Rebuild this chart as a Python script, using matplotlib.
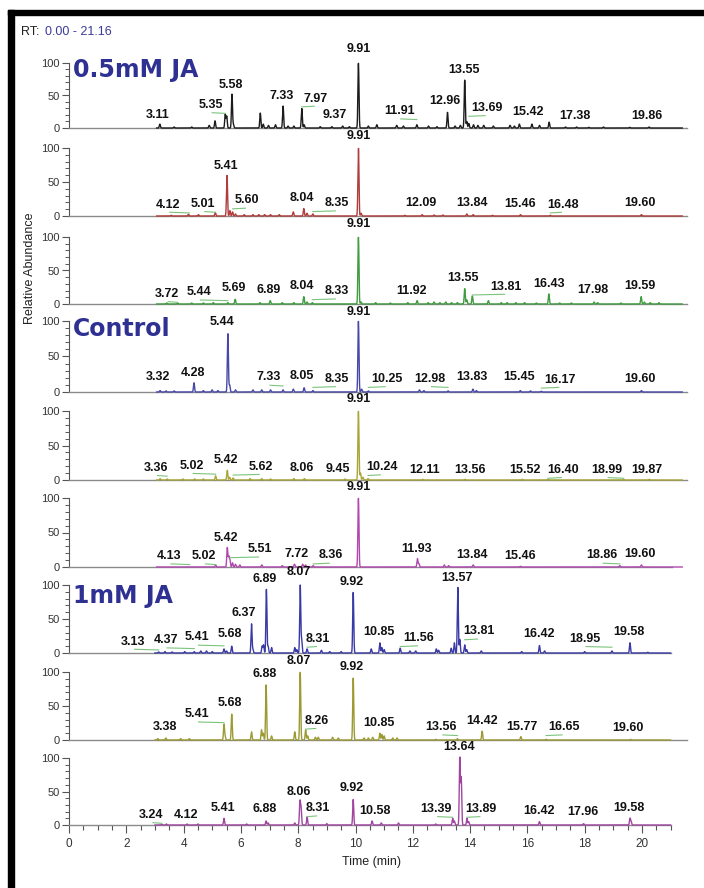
import numpy as np
import matplotlib
matplotlib.use("Agg")
import matplotlib.pyplot as plt
import matplotlib.patches as patches
from matplotlib.ticker import FixedLocator


# ---- data (retention time in min, relative abundance) ----

# 0.5mM JA, replicate 1
p1_rt = [3.11, 3.6, 4.2, 4.80, 5.00, 5.35, 5.40, 5.58, 5.63, 6.55, 6.65, 6.83, 7.07,
         7.33, 7.50, 7.70, 7.97, 8.05, 8.6, 9.0, 9.37, 9.6, 9.91, 10.25, 10.54, 11.22,
         11.45, 11.91, 12.31, 12.6, 12.96, 13.22, 13.40, 13.55, 13.62, 13.69, 13.85,
         14.0, 14.2, 14.53, 15.10, 15.25, 15.42, 15.85, 16.11, 16.44, 17.0, 17.38,
         17.8, 18.3, 19.2, 19.86]
p1_h = [6, 1.5, 1.5, 4, 11, 21, 18, 52, 5, 23, 6, 4, 5,
        34, 3, 3, 30, 5, 2, 2, 3, 2, 100, 3, 5, 4,
        3, 5, 3, 2, 24, 3, 4, 74, 10, 7, 5,
        4, 4, 3, 4, 3, 6, 6, 4, 9, 1.5, 1.5,
        1, 1.5, 1, 1.5]
p1_labels = ["3.11", "5.35", "5.58", "7.33", "7.97", "9.37", "9.91", "11.91", "12.96",
             "13.55", "13.69", "15.42", "17.38", "19.86"]
p1_label_x = [3.04, 4.85, 5.55, 7.28, 8.45, 9.11, 9.91, 11.31, 12.88, 13.53, 14.30, 15.71, 17.33, 19.78]
p1_label_y = [11, 26, 57, 40, 36, 11, 112, 16.5, 32, 80, 21.5, 15, 9, 9]

# 0.5mM JA, replicate 2
p2_rt = [3.5, 4.09, 4.43, 5.01, 5.41, 5.51, 5.60, 5.70, 6.0, 6.3, 6.5, 6.7, 6.9, 7.2,
         7.68, 8.04, 8.15, 8.35, 9.91, 10.0, 11.5, 12.09, 12.5, 12.8, 13.62, 13.84,
         14.5, 15.46, 16.48, 19.60]
p2_h = [1, 2.5, 2, 5, 60, 8, 6, 3, 2, 2, 2, 2, 2, 2,
        6, 11, 4, 3, 100, 4, 1, 2, 1.5, 1.5, 3, 2,
        1, 2, 1, 2]
p2_labels = ["4.12", "5.01", "5.41", "5.60", "8.04", "8.35", "9.91", "12.09", "13.84",
             "15.46", "16.48", "19.60"]
p2_label_x = [3.40, 4.60, 5.37, 6.09, 7.97, 9.17, 9.91, 12.05, 13.79, 15.45, 16.91, 19.55]
p2_label_y = [8, 9, 65, 14, 18, 10, 109, 10, 10, 9, 8, 10]

# 0.5mM JA, replicate 3
p3_rt = [3.35, 3.72, 4.2, 4.6, 4.94, 5.44, 5.69, 6.54, 6.89, 7.3, 7.7, 8.04, 8.15, 8.33,
         9.91, 10.0, 10.5, 11.0, 11.6, 11.92, 12.3, 12.5, 12.7, 12.9, 13.1, 13.3, 13.55,
         13.62, 13.81, 14.36, 14.8, 15.0, 15.3, 15.6, 16.0, 16.43, 16.8, 17.2, 17.98,
         18.1, 18.9, 19.59, 19.7, 19.9, 20.2]
p3_h = [1.5, 1.5, 1.5, 1.5, 2, 2, 7, 2, 5, 2, 2, 11, 3, 2,
        100, 3, 2, 1.5, 2, 5, 2, 3, 2, 3, 2, 2, 23,
        6, 12, 5, 2, 2, 2, 2, 1.5, 15, 1.5, 1.5, 3,
        2, 1.5, 11, 3, 2, 2]
p3_labels = ["3.72", "5.44", "5.69", "6.89", "8.04", "8.33", "9.91", "11.92", "13.55",
             "13.81", "16.43", "17.98", "19.59"]
p3_label_x = [3.35, 4.45, 5.65, 6.83, 7.97, 9.17, 9.91, 11.74, 13.50, 14.97, 16.42, 17.93, 19.55]
p3_label_y = [6, 8.5, 15, 12, 18, 10, 110, 11, 30, 17, 21, 12, 18]

# Control, replicate 1
p4_rt = [3.12, 3.32, 3.6, 4.28, 4.6, 4.9, 5.1, 5.44, 5.50, 5.7, 6.3, 6.6, 6.9, 7.33,
         7.68, 8.05, 8.35, 9.91, 10.02, 10.25, 12.0, 12.15, 12.98, 13.83, 13.95, 15.45,
         15.8, 16.17, 19.60]
p4_h = [2, 1.5, 1.5, 13, 2, 3, 2, 82, 10, 3, 3, 3, 3, 3,
        4, 6, 2, 100, 4, 1.5, 3, 2, 1.5, 4, 2, 2,
        1.5, 1, 2]
p4_labels = ["3.32", "4.28", "5.44", "7.33", "8.05", "8.35", "9.91", "10.25", "12.98",
             "13.83", "15.45", "16.17", "19.60"]
p4_label_x = [3.06, 4.24, 5.23, 6.83, 7.97, 9.17, 9.91, 10.88, 12.36, 13.79, 15.42, 16.82, 19.55]
p4_label_y = [12, 19, 90, 12, 14.5, 10, 104, 10, 10, 12, 12, 9, 10]

# Control, replicate 2
p5_rt = [3.12, 3.36, 3.9, 4.3, 4.6, 5.02, 5.42, 5.50, 5.62, 6.2, 6.6, 6.9, 7.7, 8.06,
         9.45, 9.91, 9.98, 10.06, 10.24, 12.11, 13.56, 15.52, 16.40, 18.99, 19.87]
p5_h = [2, 1.5, 1.5, 1.5, 1.5, 6, 14, 4, 3, 2, 2, 1.5, 2, 2,
        1.5, 100, 10, 4, 2, 1, 1, 1, 1, 1, 1]
p5_labels = ["3.36", "5.02", "5.42", "5.62", "8.06", "9.45", "9.91", "10.24", "12.11",
             "13.56", "15.52", "16.40", "18.99", "19.87"]
p5_label_x = [2.98, 4.20, 5.37, 6.56, 7.97, 9.19, 9.91, 10.71, 12.19, 13.73, 15.62, 16.91, 18.41, 19.80]
p5_label_y = [9, 12, 20, 10.6, 9, 7, 109, 10, 6, 6, 6, 6, 6, 6]

# Control, replicate 3
p6_rt = [5.02, 5.42, 5.47, 5.51, 5.60, 5.70, 5.85, 6.6, 7.3, 7.72, 8.0, 8.1, 8.36,
         9.91, 11.93, 11.98, 12.85, 13.0, 13.84, 15.46, 18.86, 19.60]
p6_h = [3, 28, 15, 10, 6, 4, 3, 3, 2, 4, 4, 3, 2,
        100, 12, 5, 3, 2, 3, 1, 2, 3]
p6_labels = ["4.13", "5.02", "5.42", "5.51", "7.72", "8.36", "9.91", "11.93", "13.84",
             "15.46", "18.86", "19.60"]
p6_label_x = [3.44, 4.62, 5.38, 6.54, 7.80, 8.96, 9.91, 11.91, 13.79, 15.45, 18.24, 19.55]
p6_label_y = [7, 7, 33, 17, 10, 8, 107, 17, 8, 7, 8, 10]

# 1mM JA, replicate 1
p7_rt = [3.13, 3.35, 3.6, 4.04, 4.37, 4.6, 4.8, 5.0, 5.41, 5.5, 5.68, 6.37, 6.42, 6.74,
         6.79, 6.89, 6.95, 7.07, 7.88, 7.95, 8.07, 8.12, 8.31, 8.81, 9.1, 9.5, 9.92,
         10.55, 10.85, 10.92, 11.0, 11.56, 11.9, 12.1, 12.82, 12.9, 13.34, 13.45, 13.57,
         13.64, 13.81, 13.88, 14.39, 15.8, 16.42, 16.6, 18.0, 18.95, 19.58, 20.2]
p7_h = [1.5, 2, 1.5, 2, 2, 3, 3, 2, 6, 3, 10, 43, 5, 10,
        12, 94, 10, 8, 8, 5, 100, 20, 6, 4, 2, 2, 89,
        6, 15, 8, 5, 7, 3, 3, 6, 4, 7, 15, 97,
        20, 12, 5, 3, 2, 11, 3, 2, 3, 15, 1]
p7_labels = ["3.13", "4.37", "5.41", "5.68", "6.37", "6.89", "8.07", "8.31", "9.92",
             "10.85", "11.56", "13.57", "13.81", "16.42", "18.95", "19.58"]
p7_label_x = [2.24, 3.37, 4.47, 5.61, 6.08, 6.83, 8.02, 8.69, 9.86, 10.82, 12.21, 13.54,
              14.31, 16.40, 17.99, 19.54]
p7_label_y = [8, 10, 14, 19, 50, 100, 110, 12, 95, 21.5, 13, 102, 23, 19, 12, 21.5]

# 1mM JA, replicate 2
p8_rt = [3.1, 3.38, 3.9, 4.2, 5.41, 5.45, 5.68, 6.37, 6.72, 6.78, 6.88, 7.07, 7.88,
         8.07, 8.26, 8.33, 8.6, 8.7, 9.2, 9.4, 9.92, 10.3, 10.45, 10.6, 10.85, 10.92,
         11.0, 11.3, 11.45, 12.8, 13.56, 14.42, 15.77, 16.65, 19.60]
p8_h = [2, 3, 2, 2, 23, 5, 38, 12, 15, 10, 81, 6, 12,
        100, 15, 6, 4, 4, 4, 3, 91, 3, 3, 4, 10, 8,
        6, 3, 3, 1, 2, 13, 5, 1, 1]
p8_labels = ["3.38", "5.41", "5.68", "6.88", "8.07", "8.26", "9.92", "10.85", "13.56",
             "14.42", "15.77", "16.65", "19.60"]
p8_label_x = [3.35, 4.47, 5.61, 6.83, 8.02, 8.66, 9.86, 10.82, 13.00, 14.42, 15.82, 17.26, 19.50]
p8_label_y = [11, 29, 45, 88, 108, 19.5, 98, 16, 10, 19.5, 10, 10, 8.5]

# 1mM JA, replicate 3
p9_rt = [3.24, 3.4, 4.12, 4.5, 5.41, 6.2, 6.88, 6.95, 7.88, 8.06, 8.10, 8.31, 9.0,
         9.92, 10.58, 10.9, 11.5, 12.8, 13.39, 13.45, 13.64, 13.69, 13.89, 13.95,
         16.42, 17.96, 19.58, 19.62]
p9_h = [1, 1.5, 1.5, 1.5, 10, 1.5, 6, 3, 3, 35, 25, 12, 2,
        38, 6, 3, 3, 1.5, 10, 6, 100, 70, 10, 5,
        5, 2, 10, 5]
p9_labels = ["3.24", "4.12", "5.41", "6.88", "8.06", "8.31", "9.92", "10.58", "13.39",
             "13.64", "13.89", "16.42", "17.96", "19.58"]
p9_label_x = [2.88, 4.08, 5.36, 6.83, 8.02, 8.69, 9.86, 10.67, 12.82, 13.61, 14.39, 16.40, 17.93, 19.54]
p9_label_y = [6, 6, 16, 15, 40, 16, 46, 12, 15, 107, 15, 12, 10, 17]

group_names = ["0.5mM JA", "Control", "1mM JA"]


# ---- layout (pixels of the 704x888 picture) ----
FIG_W, FIG_H = 704, 888
AX_LEFT, AX_RIGHT = 69, 687
PANEL_H = 87
BASELINES = [128, 216, 304, 392, 480, 567, 653, 740, 825]
TOPS_100 = [63, 148, 237, 321, 411, 498, 585, 672, 758]
X_MAX = [21.16] * 6 + [21.57] * 3
LINE_END = [None] * 5 + [20.65, 21.02, None, 21.02]
GROUP_PANEL = [0, 3, 6]
GROUP_BASELINE = [77, 336, 603]

COLORS = ["#1c1c1c", "#b03c3c", "#3f9c3f", "#4848a8", "#a8a636",
          "#b048b0", "#3a3aa6", "#9c9a32", "#a046a0"]
TITLE_COLOR = "#2e3192"
LEADER_COLOR = "#7cc47c"
PEAK_SIGMA = 0.018

LABEL_FONT = "Liberation Sans"
TITLE_FONT = "DejaVu Sans"


def build_trace(rts, heights, t):
    trace = np.zeros_like(t)
    for rt, h in zip(rts, heights):
        trace += h * np.exp(-0.5 * ((t - rt) / PEAK_SIGMA) ** 2)
    return trace


def fx(px):
    return px / FIG_W


def fy(py):
    return 1 - py / FIG_H


panels = [
    (p1_rt, p1_h, p1_labels, p1_label_x, p1_label_y),
    (p2_rt, p2_h, p2_labels, p2_label_x, p2_label_y),
    (p3_rt, p3_h, p3_labels, p3_label_x, p3_label_y),
    (p4_rt, p4_h, p4_labels, p4_label_x, p4_label_y),
    (p5_rt, p5_h, p5_labels, p5_label_x, p5_label_y),
    (p6_rt, p6_h, p6_labels, p6_label_x, p6_label_y),
    (p7_rt, p7_h, p7_labels, p7_label_x, p7_label_y),
    (p8_rt, p8_h, p8_labels, p8_label_x, p8_label_y),
    (p9_rt, p9_h, p9_labels, p9_label_x, p9_label_y),
]

fig = plt.figure(figsize=(FIG_W / 100, FIG_H / 100), dpi=100)
fig.patch.set_facecolor("white")

t = np.arange(3.0, 21.0, 0.004)

for i, (rts, hs, labs, lab_x, lab_y) in enumerate(panels):

    base = BASELINES[i]
    ax = fig.add_axes([fx(AX_LEFT), fy(base), fx(AX_RIGHT - AX_LEFT), PANEL_H / FIG_H])
    ax.set_facecolor("none")
    y_top = 100 * PANEL_H / (base - TOPS_100[i])
    ax.set_xlim(0, X_MAX[i])
    ax.set_ylim(0, y_top)

    trace = build_trace(rts, hs, t)
    ax.plot(t, trace, color=COLORS[i], lw=1.0, clip_on=False, zorder=3)

    # peak labels, with the little green leader lines of the software
    for txt, lx, ly in zip(labs, lab_x, lab_y):
        ax.text(lx, ly, txt, ha="center", va="bottom", fontsize=9, fontweight="bold",
                family=LABEL_FONT, color="#111111", clip_on=False, zorder=5)
        rt = float(txt)
        if abs(lx - rt) > 0.3:
            x0 = lx + (0.05 if rt > lx else -0.05)
            ax.plot([x0, rt], [ly - 2.5, ly - 3.5], color=LEADER_COLOR, lw=0.8,
                    clip_on=False, zorder=4)

    for side in ["top", "right"]:
        ax.spines[side].set_visible(False)
    ax.spines["left"].set_bounds(0, 100)
    ax.spines["left"].set_color("#555555")
    ax.spines["left"].set_linewidth(0.8)
    ax.spines["bottom"].set_color("#8a8a8a")
    ax.spines["bottom"].set_linewidth(1.0)
    end = LINE_END[i] if LINE_END[i] is not None else X_MAX[i]
    ax.spines["bottom"].set_bounds(0, end)

    ax.yaxis.set_major_locator(FixedLocator([0, 50, 100]))
    ax.yaxis.set_minor_locator(FixedLocator(list(range(10, 100, 10))))
    ax.tick_params(axis="y", which="major", length=5, width=0.8, color="#555555",
                   labelsize=8, labelcolor="#333333", pad=1.5)
    ax.tick_params(axis="y", which="minor", length=3, width=0.7, color="#555555")
    for lbl in ax.get_yticklabels():
        lbl.set_family(LABEL_FONT)

    if i == len(panels) - 1:
        ax.xaxis.set_major_locator(FixedLocator(list(range(0, 21, 2))))
        ax.xaxis.set_minor_locator(FixedLocator(list(np.arange(0, 21.01, 0.5))))
        ax.tick_params(axis="x", which="major", length=6, width=0.8, color="#555555",
                       labelsize=8.5, labelcolor="#333333", pad=3)
        ax.tick_params(axis="x", which="minor", length=3.5, width=0.8, color="#555555")
        for lbl in ax.get_xticklabels():
            lbl.set_family(LABEL_FONT)
    else:
        ax.tick_params(axis="x", which="both", bottom=False, labelbottom=False)

# group titles
for name, py in zip(group_names, GROUP_BASELINE):
    fig.text(fx(73), fy(py), name, ha="left", va="baseline", fontsize=17,
             fontweight="bold", family=TITLE_FONT, color=TITLE_COLOR)

fig.text(fx(30), fy(268), "Relative Abundance", rotation=90, ha="center", va="center",
         fontsize=9, family=LABEL_FONT, color="#222222")
fig.text(fx(372), fy(862), "Time (min)", ha="center", va="center",
         fontsize=9, family=LABEL_FONT, color="#222222")
fig.text(fx(21), fy(32), "RT:", ha="left", va="center", fontsize=9,
         family=LABEL_FONT, color="#222222")
fig.text(fx(45), fy(32), "0.00 - 21.16", ha="left", va="center", fontsize=9,
         family=LABEL_FONT, color="#3a3a9a")

# black frame on the top and left of the picture
frame_top = patches.Rectangle((fx(8), fy(15)), 1 - fx(8), 5 / FIG_H,
                              transform=fig.transFigure, color="black", zorder=10)
frame_left = patches.Rectangle((fx(8), 0), 6 / FIG_W, fy(10),
                               transform=fig.transFigure, color="black", zorder=10)
fig.patches.extend([frame_top, frame_left])

fig.savefig("out.png", dpi=100)
